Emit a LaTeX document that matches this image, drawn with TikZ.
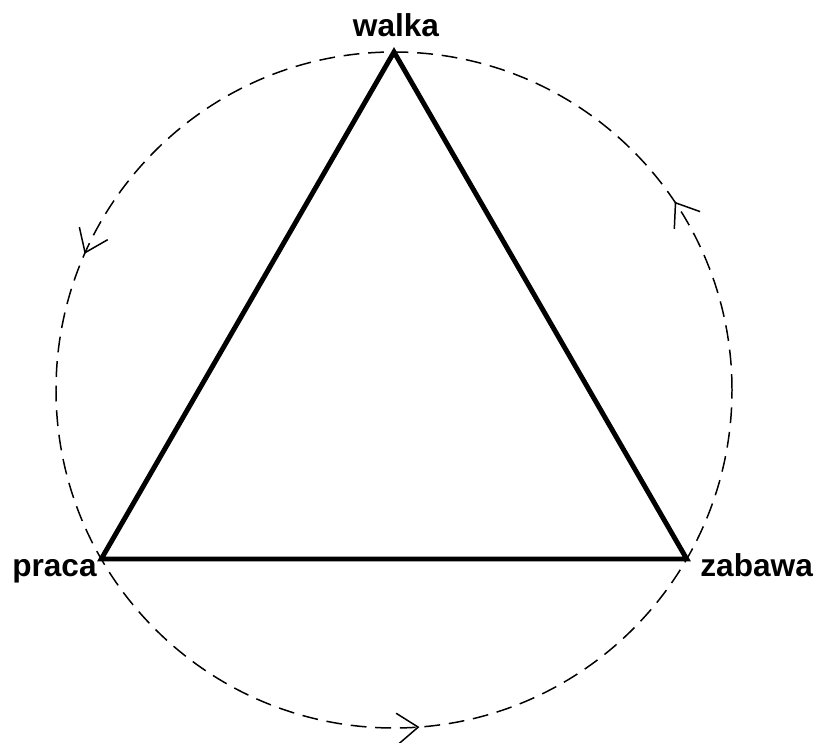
\documentclass[tikz,border=0pt]{standalone}
\usepackage{fontspec}
\setmainfont{Liberation Sans}
\usetikzlibrary{arrows.meta,decorations.markings}

\begin{document}
\begin{tikzpicture}[x=0.02cm,y=0.02cm,
  lbl/.style={font=\fontsize{18}{20}\selectfont\bfseries},
  cyc/.style={dashed,dash pattern=on 9 off 5,line width=0.85pt,
    decoration={markings,
      mark=at position 0.094 with {\arrow{Straight Barb[length=0.42cm,width=0.62cm]}},
      mark=at position 0.434 with {\arrow{Straight Barb[length=0.42cm,width=0.62cm]}},
      mark=at position 0.762 with {\arrow{Straight Barb[length=0.42cm,width=0.62cm]}}},
    postaction={decorate}}]
\useasboundingbox (0,0) rectangle (815,743);
\coordinate (c) at (394,353);
\path (c) ++(90:338) coordinate (walka);
\path (c) ++(210:338) coordinate (praca);
\path (c) ++(330:338) coordinate (zabawa);
% cycle
\draw[cyc] (c) circle[radius=338];
% triangle
\draw[line width=2.8pt,line join=miter] (walka) -- (praca) -- (zabawa) -- cycle;
\node[lbl,anchor=base] (lw) at (396,706) {walka};
\node[lbl,anchor=base east,inner sep=0pt] (lp) at (97,166) {praca};
\node[lbl,anchor=base west,inner sep=0pt] (lz) at (700,166) {zabawa};
\end{tikzpicture}
\end{document}
